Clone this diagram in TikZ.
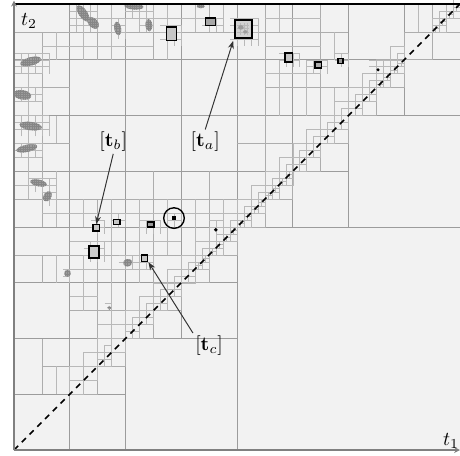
\documentclass[tikz,border=0pt]{standalone}
\usepackage{amsmath}
\usetikzlibrary{arrows.meta}

\begin{document}
\begin{tikzpicture}[x=1cm,y=1cm,>={Stealth[length=4pt,width=3pt]},
  coarse/.style={draw=gray!78,line width=0.5pt},
  fine/.style={draw=gray!64,line width=0.32pt},
  finer/.style={draw=gray!55,line width=0.25pt},
  blob/.style={fill=gray!78},
  marked/.style={draw=black,line width=0.7pt,fill=gray!45},
  target/.style={rectangle,draw=black,line width=0.7pt,fill=gray!45,inner sep=0pt},
  tag/.style={inner sep=1pt},
  axis/.style={draw=gray!100,line width=1.1pt,-{Stealth[length=3pt,width=3pt]}}]
\useasboundingbox (-0.251,-0.09) rectangle (8.0,8.072);
\fill[gray!10] (0,0) rectangle (8,8);
\coordinate (origin) at (0,0);
\coordinate (corner) at (8,8);
\coordinate (xend) at (8.0,0);
\coordinate (yend) at (0,8.06);
\coordinate (topleft) at (0,8);

\foreach \x/\a/\b in {1/0/8,2/0/8,3/2/8,4/0/8,5/4/8,6/4/8,7/6/8}
  \draw[coarse] (\x,\a) -- (\x,\b);
\foreach \y/\a/\b in {1/0/2,2/0/4,3/0/4,4/0/8,5/0/6,6/0/8,7/0/8}
  \draw[coarse] (\a,\y) -- (\b,\y);

\foreach \x/\a/\b in {0.5/1/2,0.5/3/3.5,0.5/4/7.5,1.5/2/4.5,1.5/7/8,2.5/3/5,2.5/7/8,
    3.5/4/5,3.5/7.5/8,4.5/4/8,5.5/6/8,7.5/7/8}
  \draw[fine] (\x,\a) -- (\x,\b);
\foreach \y/\a/\b in {1.5/0.5/1,2.5/1/2,3.5/0/3,4.5/0/4,5.5/0/1,5.5/4/6,6.5/0/1,
    6.5/4.5/6,7.5/0/6,7.5/7/8}
  \draw[fine] (\a,\y) -- (\b,\y);

\foreach \x/\a/\b in {0.25/4.5/5,0.25/5/6,0.25/6/7,0.75/1/1.5,0.75/3/3.5,0.75/4/5,
    0.75/5.5/6,0.75/7/7.5,1.25/2.5/3.5,1.25/4/4.5,1.25/7/8,1.75/2/4.5,1.75/7/8,
    2.25/3/4.5,2.25/7.5/8,2.75/3.5/4.5,2.75/7/8,3.25/3.5/4.5,3.25/7.5/8,3.75/4/4.5,
    3.75/7.5/8,4.75/6/7,4.75/7.5/8,5.25/6/7,5.75/6/6.5,5.75/7/7.5,7.25/7.5/8}
  \draw[finer] (\x,\a) -- (\x,\b);
\foreach \y/\a/\b in {2.25/1.5/2,2.75/1/1.5,3.25/1/2.5,3.75/1/3,4.25/0.5/4,4.75/0/0.75,
    5.25/0/0.5,5.75/0/0.5,6.25/0/0.5,6.75/0/0.5,6.75/4.5/5.5,7.25/0.5/2.5,
    7.25/4.5/5.5,7.75/1/3.75,7.75/4.5/5.5}
  \draw[finer] (\a,\y) -- (\b,\y);

\foreach \k in {2,...,15}
  \draw[fine] (\k*0.5,\k*0.5) rectangle ++(0.5,0.5);
\foreach \k in {4,...,27}
  \draw[finer] (\k/4,\k/4) rectangle ++(0.25,0.25) (\k/4,\k/4+0.25) rectangle ++(0.25,0.25);
\foreach \k in {30,31}
  \draw[finer] (\k/4,\k/4) rectangle ++(0.25,0.25);
\foreach \a/\b in {12/13,16/55,60/63}
  \foreach \k in {\a,...,\b}
    \draw[finer] (\k/8,\k/8) rectangle ++(0.125,0.125) (\k/8,\k/8+0.125) rectangle ++(0.125,0.125);
\foreach \a/\b in {52/79,104/111,120/127}
  \foreach \k in {\a,...,\b}
    \draw[finer] (\k/16,\k/16) rectangle ++(0.0625,0.0625);

\foreach \a/\b/\c/\d in {0/6.75/0.625/7.125,0/6.25/0.5/6.5,0/5.625/0.625/6,0/5.25/0.5/5.5,
    0.25/4.625/0.75/4.875,0.5/4.375/0.75/4.625,1/7.5/1.5/8,1.75/7.375/2/7.75,
    2/7.75/2.5/8,2.25/7.5/2.5/7.75,2.625/7.25/3/7.625,3.375/7.5/3.75/7.75,
    3.875/7.25/4.375/7.75,4.75/6.875/5.125/7.125,5.25/6.75/5.625/7,5.75/6.875/6/7.125,
    6.375/6.625/6.75/7,1.375/3.875/1.625/4.125,1.75/4/2/4.25,2.25/3.875/2.625/4.125,
    2.75/4/3/4.25,1.25/3.375/1.625/3.75,1.875/3.25/2.5/3.5,0.875/3/1/3.25,
    3.5/3.875/3.75/4.125,1.625/2.5/1.75/2.625}
  \draw[finer,step=0.125] (\a,\b) grid (\c,\d);

\begin{scope}
\clip (0,0) rectangle (8,8);
\foreach \x/\y/\rx/\ry/\t in {0.3/6.97/0.19/0.075/15,0.15/6.37/0.16/0.085/-10,
    0.3/5.81/0.2/0.075/-8,0.23/5.41/0.19/0.065/12,0.44/4.79/0.15/0.06/-12,
    0.6/4.55/0.1/0.07/55,0.96/3.17/0.06/0.06/0,1.24/7.83/0.17/0.075/-55,
    1.42/7.66/0.12/0.08/-45,1.86/7.56/0.06/0.12/10,2.15/7.96/0.17/0.06/-5,
    2.42/7.62/0.06/0.11/5,3.35/7.96/0.07/0.035/0,2.04/3.36/0.08/0.07/20,
    1.71/2.55/0.035/0.035/0}
  {
  \begin{scope}
  \clip[rotate around={\t:(\x,\y)}] (\x,\y) ellipse [x radius=\rx,y radius=\ry];
  \fill[blob] (\x-0.3,\y-0.3) rectangle (\x+0.3,\y+0.3);
  \draw[gray!95,line width=0.25pt,step=0.04] (\x-0.3,\y-0.3) grid (\x+0.3,\y+0.3);
  \end{scope}
  }
\end{scope}

\draw[marked] (2.73,7.35) rectangle (2.92,7.59);
\draw[marked,fill=gray!70] (3.44,7.62) rectangle (3.62,7.75);
\draw[marked] (4.86,6.96) rectangle (5.0,7.12);
\draw[marked,fill=gray!65] (5.4,6.85) rectangle (5.52,6.96);
\draw[marked,fill=gray!80] (5.81,6.93) rectangle (5.9,7.02);
\draw[marked] (1.78,4.04) rectangle (1.9,4.14);
\draw[marked,fill=gray!80] (2.4,4.0) rectangle (2.51,4.09);
\draw[marked,line width=1pt,fill=gray!40] (1.35,3.45) rectangle (1.53,3.66);
\fill (6.53,6.82) circle (0.03);
\fill (3.62,3.95) circle (0.035);
\draw[line width=0.7pt] (2.87,4.16) circle (0.185);
\draw[marked,fill=gray!70] (2.85,4.14) rectangle (2.89,4.18);

\node at (4.115,7.55) (boxa) [target,minimum width=0.31cm,minimum height=0.32cm,line width=1pt,fill=gray!35] {};
\draw[finer,step=0.0625] (4.0,7.44) grid (4.22,7.66);
\fill[blob] (4.07,7.58) ellipse [x radius=0.05,y radius=0.04];
\fill[blob] (4.15,7.5) ellipse [x radius=0.04,y radius=0.03];
\node at (1.475,3.985) (boxb) [target,minimum width=0.11cm,minimum height=0.11cm] {};
\node at (2.345,3.44) (boxc) [target,minimum width=0.11cm,minimum height=0.12cm] {};

\draw[black,line width=0.8pt,dash pattern=on 3pt off 2.6pt] (origin) -- (corner);
\draw[black,line width=0.6pt] (topleft) -- (corner);
\draw[axis] (origin) -- (yend);
\draw[axis,line width=1.3pt] (origin) -- (xend);

\node at (0.27,7.7) (ttwo) [tag] {$t_2$};
\node at (7.84,0.17) (tone) [tag] {$t_1$};
\node at (3.43,5.53) (ta) [tag] {$[\mathbf{t}_a]$};
\node at (1.78,5.53) (tb) [tag] {$[\mathbf{t}_b]$};
\node at (3.5,1.88) (tc) [tag] {$[\mathbf{t}_c]$};
\draw[->,gray!40!black,line width=0.5pt,shorten >=1pt] (ta.north) -- (boxa.south west);
\draw[->,gray!40!black,line width=0.5pt] (tb.south) -- (boxb.north);
\draw[->,gray!40!black,line width=0.5pt] (tc.north west) -- (boxc.south east);
\end{tikzpicture}
\end{document}
